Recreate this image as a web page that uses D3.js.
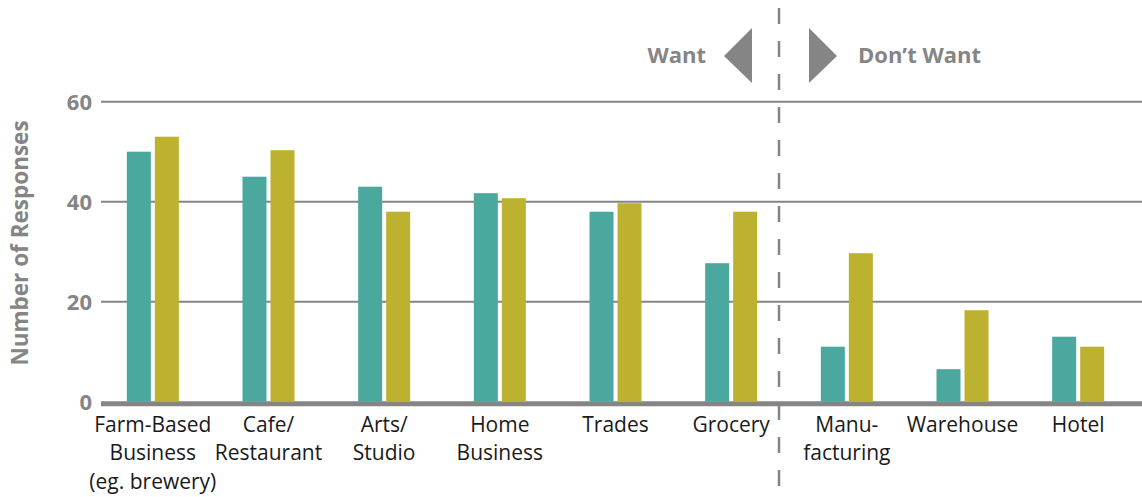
<!DOCTYPE html>
<html>
<head>
<meta charset="utf-8">
<script src="https://cdn.jsdelivr.net/npm/d3@7"></script>
<style>
  body { margin: 0; background: #fff; }
  svg { display: block; font-family: "Segoe UI", "Open Sans", sans-serif; }
</style>
</head>
<body>
<div class="chart"></div>
<script>
// categories (label lines split by "|")
var categories = ["Farm-Based|Business|(eg. brewery)", "Cafe/|Restaurant", "Arts/|Studio", "Home|Business",
    "Trades", "Grocery", "Manu-|facturing", "Warehouse", "Hotel"];
var series = ["a", "b"];
var seriesA = [50, 45, 43, 41.7, 38, 27.7, 11, 6.5, 13];
var seriesB = [53, 50.3, 38, 40.7, 39.7, 38, 29.7, 18.3, 11];
var yTicks = [0, 20, 40, 60];
var splitIndex = 6; // first "Don't Want" category

var colors = {a: "#4aa89e", b: "#bdb22f"};
var grey = "#858585";

var width = 1142,
    height = 497;

var svg = d3.select("div.chart")
    .append("svg")
    .attr("width", width)
    .attr("height", height);

var x = d3.scaleBand()
    .domain(categories)
    .range([95, 1136])
    .padding(0);

var x1 = d3.scaleBand()
    .domain(series)
    .range([-26, 26])
    .paddingInner(0.143);

var y = d3.scaleLinear()
    .domain([0, 60])
    .range([401.7, 101.7]);

// gridlines
svg.selectAll(".grid")
    .data(yTicks)
    .enter()
    .append("line")
    .attr("x1", 101)
    .attr("x2", width)
    .attr("y1", function(d){ return y(d); })
    .attr("y2", function(d){ return y(d); })
    .attr("stroke", grey)
    .attr("stroke-width", function(d){ return d == 0 ? 5 : 2; })
    .attr("transform", function(d){ return d == 0 ? "translate(0,2)" : null; });

// y tick labels
svg.selectAll(".ytick")
    .data(yTicks)
    .enter()
    .append("text")
    .attr("x", 92)
    .attr("y", function(d){ return y(d) + 8; })
    .attr("text-anchor", "end")
    .attr("fill", grey)
    .attr("font-weight", "bold")
    .attr("font-size", "22px")
    .text(function(d){ return d; });

// y title
svg.append("text")
    .attr("transform", "translate(28,243) rotate(-90)")
    .attr("text-anchor", "middle")
    .attr("fill", grey)
    .attr("font-weight", "bold")
    .attr("font-size", "22.5px")
    .text("Number of Responses");

// bars
var rows = categories.map(function(c, i){
    return {cat: c, a: seriesA[i], b: seriesB[i]};
});

var groups = svg.selectAll(".group")
    .data(rows)
    .enter()
    .append("g")
    .attr("transform", function(d){ return "translate(" + (x(d.cat) + x.bandwidth() / 2) + ",0)"; });

groups.selectAll("rect")
    .data(function(d){ return series.map(function(s){ return {key: s, value: d[s]}; }); })
    .enter()
    .append("rect")
    .attr("x", function(d){ return x1(d.key); })
    .attr("width", x1.bandwidth())
    .attr("y", function(d){ return y(d.value); })
    .attr("height", function(d){ return y(0) - y(d.value); })
    .attr("fill", function(d){ return colors[d.key]; });

// category labels
var labels = svg.selectAll(".xlabel")
    .data(categories)
    .enter()
    .append("text")
    .attr("text-anchor", "middle")
    .attr("fill", "#1a1a1a")
    .attr("font-size", "21px");

labels.selectAll("tspan")
    .data(function(d){
        return d.split("|").map(function(line, i){ return {cat: d, line: line, i: i}; });
    })
    .enter()
    .append("tspan")
    .attr("x", function(d){ return x(d.cat) + x.bandwidth() / 2; })
    .attr("y", function(d){ return 431.7 + d.i * 28.4; })
    .text(function(d){ return d.line; });

// divider between want / don't want
var divX = x(categories[splitIndex]) - 10;

svg.append("line")
    .attr("x1", divX)
    .attr("x2", divX)
    .attr("y1", 8)
    .attr("y2", height)
    .attr("stroke", grey)
    .attr("stroke-width", 2.5)
    .attr("stroke-dasharray", "16,17");

// arrows
svg.append("path")
    .attr("d", "M" + (divX - 27) + ",28 L" + (divX - 55) + ",56 L" + (divX - 27) + ",83 Z")
    .attr("fill", grey);

svg.append("path")
    .attr("d", "M" + (divX + 30) + ",28 L" + (divX + 58) + ",56 L" + (divX + 30) + ",83 Z")
    .attr("fill", grey);

svg.append("text")
    .attr("x", divX - 73)
    .attr("y", 63)
    .attr("text-anchor", "end")
    .attr("fill", grey)
    .attr("font-weight", "bold")
    .attr("font-size", "22px")
    .text("Want");

svg.append("text")
    .attr("x", divX + 79)
    .attr("y", 63)
    .attr("fill", grey)
    .attr("font-weight", "bold")
    .attr("font-size", "22px")
    .text("Don\u2019t Want");
</script>
</body>
</html>
